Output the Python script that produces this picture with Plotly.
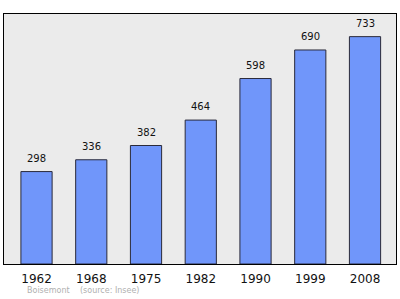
import plotly.graph_objects as go

years = ["1962", "1968", "1975", "1982", "1990", "1999", "2008"]
population = [298, 336, 382, 464, 598, 690, 733]
town = "Boisemont"
source = "(source: Insee)"

fig = go.Figure()
fig.add_trace(go.Bar(
    x=years, y=population, width=0.57,
    marker=dict(color="#7096fa", line=dict(color="#2a2a3a", width=1)),
    hoverinfo="skip",
))
for i, v in enumerate(population):
    fig.add_annotation(x=i, y=v, text=str(v), showarrow=False, yanchor="bottom",
                       yshift=6, font=dict(family="DejaVu Sans", size=10, color="#111"))

fig.add_annotation(xref="paper", yref="paper", x=0.054, y=-0.106, xanchor="left", yanchor="middle",
                   text=town, showarrow=False, font=dict(family="DejaVu Sans", size=8, color="#b0b0b0"))
fig.add_annotation(xref="paper", yref="paper", x=0.189, y=-0.106, xanchor="left", yanchor="middle",
                   text=source, showarrow=False, font=dict(family="DejaVu Sans", size=8, color="#b0b0b0"))

fig.update_layout(
    width=400, height=299,
    margin=dict(l=4, r=4, t=14, b=35),
    paper_bgcolor="white", plot_bgcolor="#ebebeb",
    showlegend=False,
    xaxis=dict(type="category", range=[-0.594, 6.566], showgrid=False, showline=True, linecolor="#000",
               linewidth=1, mirror=True, ticks="", ticklabelstandoff=4,
               tickfont=dict(family="DejaVu Sans", size=12, color="#111"), fixedrange=True),
    yaxis=dict(range=[0, 806], showgrid=False, showticklabels=False, zeroline=False, showline=True,
               linecolor="#000", linewidth=1, mirror=True, ticks="", fixedrange=True),
)
fig.write_html("out.html")
